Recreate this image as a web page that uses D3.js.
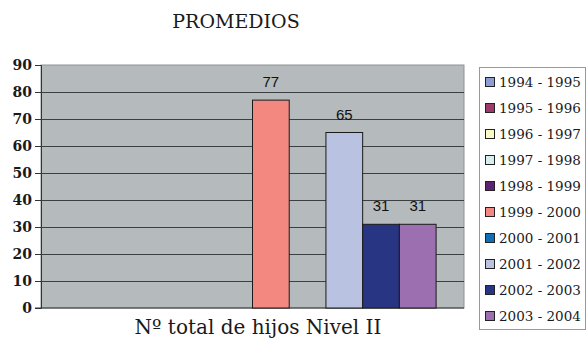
<!DOCTYPE html>
<html>
<head>
<meta charset="utf-8">
<script src="https://cdn.jsdelivr.net/npm/d3@7"></script>
<style>
  body { margin: 0; background: #fff; }
  svg { display: block; }
</style>
</head>
<body>
<script>
// series (school years) and their values for the single category
var periods = ['1994 - 1995', '1995 - 1996', '1996 - 1997', '1997 - 1998', '1998 - 1999',
	'1999 - 2000', '2000 - 2001', '2001 - 2002', '2002 - 2003', '2003 - 2004'];
var values = [null, null, null, null, null, 77, null, 65, 31, 31];
var colors = ['#8f9bd4', '#9b3a6b', '#fdf9c4', '#d5eeee', '#5e2270',
	'#f28880', '#0f6eb8', '#b9c2e1', '#283583', '#9c70b0'];
var yTicks = [0, 10, 20, 30, 40, 50, 60, 70, 80, 90];

var width = 587, height = 343;
var plot = { left: 41, right: 464, top: 65, bottom: 308 };

var svg = d3.select('body').append('svg')
	.attr('width', width)
	.attr('height', height);

// scales
var xScale = d3.scaleBand()
	.domain(periods)
	.range([plot.left, plot.right])
	.paddingInner(0)
	.paddingOuter(0.76);

var yScale = d3.scaleLinear()
	.domain([0, 90])
	.range([plot.bottom, plot.top]);

// plot background
svg.append('rect')
	.attr('x', plot.left)
	.attr('y', plot.top)
	.attr('width', plot.right - plot.left)
	.attr('height', plot.bottom - plot.top)
	.attr('fill', '#b5babd')
	.attr('stroke', '#8e9295')
	.attr('stroke-width', 1);

// gridlines + y axis
var yAxis = d3.axisLeft(yScale)
	.tickValues(yTicks)
	.tickSize(6)
	.tickPadding(3);

var gy = svg.append('g')
	.attr('transform', `translate(${plot.left}, 0)`)
	.call(yAxis);

gy.select('.domain').attr('stroke', '#333');
gy.selectAll('.tick line').attr('stroke', '#333');
gy.selectAll('.tick text')
	.attr('fill', '#1a1a1a')
	.style('font-family', '"DejaVu Serif", serif')
	.style('font-weight', 'bold')
	.style('font-size', '14px');

svg.append('g')
	.selectAll('line')
	.data(yTicks.filter(function(d) { return d > 0 && d < 90; }))
	.enter().append('line')
	.attr('x1', plot.left)
	.attr('x2', plot.right)
	.attr('y1', function(d) { return Math.round(yScale(d)) + 0.5; })
	.attr('y2', function(d) { return Math.round(yScale(d)) + 0.5; })
	.attr('stroke', '#3c3f41')
	.attr('stroke-width', 1);

// bottom line
svg.append('line')
	.attr('x1', plot.left - 6)
	.attr('x2', plot.right)
	.attr('y1', plot.bottom)
	.attr('y2', plot.bottom)
	.attr('stroke', '#333');

// bars
var barData = periods.map(function(p, i) { return { period: p, value: values[i], color: colors[i] }; })
	.filter(function(d) { return d.value != null; });

svg.append('g')
	.selectAll('rect')
	.data(barData)
	.enter().append('rect')
	.attr('x', function(d) { return xScale(d.period); })
	.attr('y', function(d) { return yScale(d.value); })
	.attr('width', xScale.bandwidth())
	.attr('height', function(d) { return yScale(0) - yScale(d.value); })
	.attr('fill', function(d) { return d.color; })
	.attr('stroke', '#1a1a1a')
	.attr('stroke-width', 1);

// value labels
svg.append('g')
	.selectAll('text')
	.data(barData)
	.enter().append('text')
	.attr('x', function(d) { return xScale(d.period) + xScale.bandwidth() / 2; })
	.attr('y', function(d) { return yScale(d.value) - 13; })
	.attr('text-anchor', 'middle')
	.style('font-family', '"Liberation Sans", Arial, sans-serif')
	.style('font-size', '15px')
	.attr('fill', '#111')
	.text(function(d) { return d.value; });

// chart title
svg.append('text')
	.attr('x', 236)
	.attr('y', 28)
	.attr('text-anchor', 'middle')
	.style('font-family', '"DejaVu Serif", serif')
	.style('font-size', '19px')
	.attr('fill', '#1a1a1a')
	.text('PROMEDIOS');

// x axis title
svg.append('text')
	.attr('x', 258)
	.attr('y', 334)
	.attr('text-anchor', 'middle')
	.style('font-family', '"DejaVu Serif", serif')
	.style('font-size', '20px')
	.attr('fill', '#1a1a1a')
	.text('Nº total de hijos Nivel II');

// legend
var legend = svg.append('g');

legend.append('rect')
	.attr('x', 479.5)
	.attr('y', 67.5)
	.attr('width', 106)
	.attr('height', 262)
	.attr('fill', '#fff')
	.attr('stroke', '#999');

var item = legend.selectAll('g.item')
	.data(periods)
	.enter().append('g')
	.attr('class', 'item')
	.attr('transform', function(d, i) { return `translate(485, ${82 + i * 26})`; });

item.append('rect')
	.attr('x', 0.5)
	.attr('y', -4.5)
	.attr('width', 9)
	.attr('height', 9)
	.attr('fill', function(d, i) { return colors[i]; })
	.attr('stroke', '#222');

item.append('text')
	.attr('x', 14)
	.attr('y', 5)
	.style('font-family', '"DejaVu Serif", serif')
	.style('font-size', '13.5px')
	.attr('fill', '#1a1a1a')
	.text(function(d) { return d; });
</script>
</body>
</html>
